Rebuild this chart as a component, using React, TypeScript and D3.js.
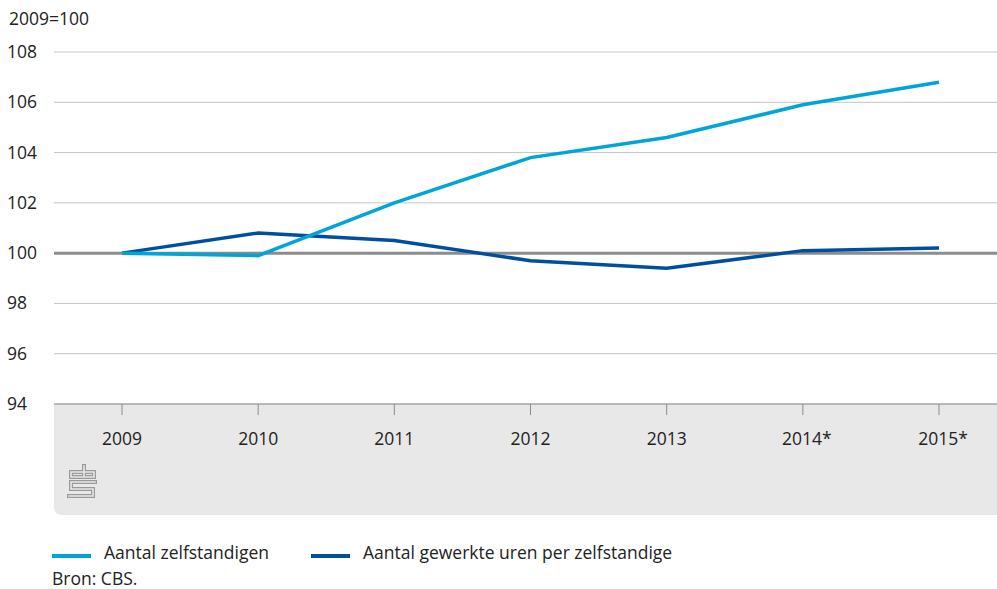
import React from "react";
import * as d3 from "d3";

const years = ["2009", "2010", "2011", "2012", "2013", "2014*", "2015*"];
const zelfstandigen = [100, 99.9, 102.0, 103.8, 104.6, 105.9, 106.8];
const urenPerZelfstandige = [100, 100.8, 100.5, 99.7, 99.4, 100.1, 100.2];
const yTicks = [94, 96, 98, 100, 102, 104, 106, 108];

const W = 997;
const H = 589;
const left = 54;
const right = 997;
const top = 52;
const bottom = 404;
const font = "'Open Sans', 'Noto Sans', sans-serif";
const fs = 17.5;

export default function App() {
  const x = d3.scalePoint<string>().domain(years).range([122, 939]);
  const y = d3.scaleLinear().domain([94, 108]).range([bottom, top]);
  const line = d3
    .line<number>()
    .x((_, i) => x(years[i]) as number)
    .y((d) => y(d));

  const boxBottom = 515;
  const r = 8;
  const boxPath = `M${left},${bottom} H${right} V${boxBottom} H${left + r} Q${left},${boxBottom} ${left},${boxBottom - r} Z`;
  const logoPath = "M83,472 H71 V477 H83 M84,466 V477 H94 V472 H84 M95,482 H71 V489 H93 V496 H69";

  return (
    <svg
      width={W}
      height={H}
      style={{ position: "absolute", left: 0, top: 0, background: "#fff" }}
      fontFamily={font}
    >
      <path d={boxPath} fill="#e8e8e8" />
      <text x={9} y={25} fontSize={fs} fill="#222">2009=100</text>
      {yTicks.map((t) =>
        t === 94 ? null : (
          <line
            key={t}
            x1={left}
            x2={right}
            y1={y(t)}
            y2={y(t)}
            stroke={t === 100 ? "#8c8c8c" : "#c4c4c4"}
            strokeWidth={t === 100 ? 3 : 1}
          />
        )
      )}
      {yTicks.map((t) => (
        <text key={t} x={7} y={y(t) + 6} fontSize={fs} fill="#222">
          {t}
        </text>
      ))}
      <line x1={left} x2={right} y1={bottom} y2={bottom} stroke="#a6a6a6" strokeWidth={1.5} />
      {years.map((yr) => (
        <g key={yr}>
          <line
            x1={x(yr)}
            x2={x(yr)}
            y1={bottom}
            y2={bottom + 11}
            stroke="#8c8c8c"
            strokeWidth={1}
          />
          <text
            x={(x(yr) as number) + (yr.endsWith("*") ? 4 : 0)}
            y={445}
            fontSize={fs}
            fill="#222"
            textAnchor="middle"
          >
            {yr}
          </text>
        </g>
      ))}
      {/* cbs logo */}
      <path d={logoPath} fill="none" stroke="#9a9a9a" strokeWidth={4} strokeLinecap="square" />
      <path d={logoPath} fill="none" stroke="#e8e8e8" strokeWidth={1.6} strokeLinecap="square" />
      <path
        d={line(urenPerZelfstandige) || ""}
        fill="none"
        stroke="#004f9f"
        strokeWidth={3.5}
      />
      <path
        d={line(zelfstandigen) || ""}
        fill="none"
        stroke="#00a5d8"
        strokeWidth={3.5}
      />
      {/* legend */}
      <line x1={52} x2={91} y1={556} y2={556} stroke="#00a5d8" strokeWidth={4} />
      <text x={104} y={559} fontSize={fs} fill="#222">Aantal zelfstandigen</text>
      <line x1={311} x2={350} y1={556} y2={556} stroke="#004f9f" strokeWidth={4} />
      <text x={363} y={559} fontSize={fs} fill="#222">Aantal gewerkte uren per zelfstandige</text>
      <text x={52} y={585} fontSize={fs} fill="#222">Bron: CBS.</text>
    </svg>
  );
}
